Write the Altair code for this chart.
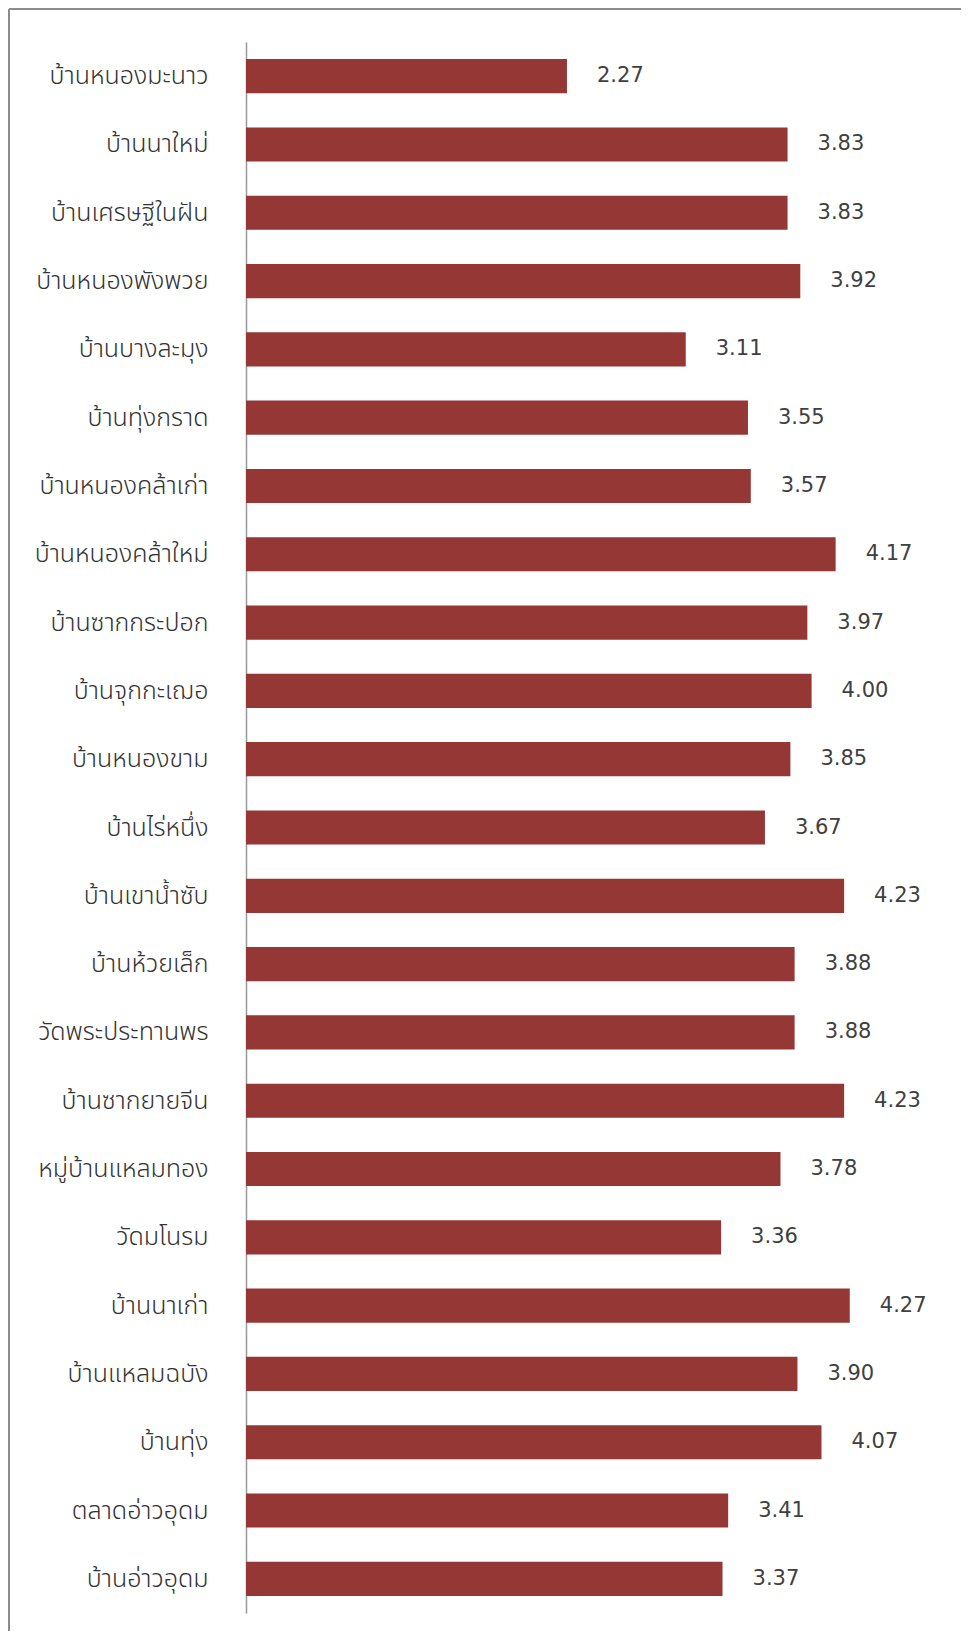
import altair as alt
import pandas as pd

villages = [
    "บ้านหนองมะนาว", "บ้านนาใหม่", "บ้านเศรษฐีในฝัน", "บ้านหนองพังพวย",
    "บ้านบางละมุง", "บ้านทุ่งกราด", "บ้านหนองคล้าเก่า", "บ้านหนองคล้าใหม่",
    "บ้านซากกระปอก", "บ้านจุกกะเฌอ", "บ้านหนองขาม", "บ้านไร่หนึ่ง",
    "บ้านเขาน้ำซับ", "บ้านห้วยเล็ก", "วัดพระประทานพร", "บ้านซากยายจีน",
    "หมู่บ้านแหลมทอง", "วัดมโนรม", "บ้านนาเก่า", "บ้านแหลมฉบัง",
    "บ้านทุ่ง", "ตลาดอ่าวอุดม", "บ้านอ่าวอุดม",
]
scores = [
    2.27, 3.83, 3.83, 3.92,
    3.11, 3.55, 3.57, 4.17,
    3.97, 4.00, 3.85, 3.67,
    4.23, 3.88, 3.88, 4.23,
    3.78, 3.36, 4.27, 3.90,
    4.07, 3.41, 3.37,
]

df = pd.DataFrame({"village": villages, "score": scores})

W = 707
H = 1571
PAD_L, PAD_T, PAD_R, PAD_B = 238, 34, 8, 18

y_enc = alt.Y(
    "village:N",
    sort=None,
    title=None,
    scale=alt.Scale(paddingInner=0.5, paddingOuter=0.25),
    axis=alt.Axis(
        ticks=False,
        domainColor="#999999",
        domainWidth=1.5,
        labelPadding=38,
        labelFontSize=25,
        labelFont="Noto Sans Thai, Tahoma, sans-serif",
        labelFontWeight=300,
        labelColor="#333333",
        labelLimit=300,
    ),
)
x_enc = alt.X(
    "score:Q",
    title=None,
    scale=alt.Scale(domain=[0, 5], nice=False),
    axis=None,
)

base = alt.Chart(df)

bars = base.mark_bar(color="#953735").encode(x=x_enc, y=y_enc)

labels = base.mark_text(
    align="left",
    baseline="middle",
    dx=30,
    fontSize=21,
    font="DejaVu Sans",
    color="#404040",
).encode(x=x_enc, y=alt.Y("village:N", sort=None), text=alt.Text("score:Q", format=".2f"))

frame_top = alt.Chart(pd.DataFrame({"a": [0]})).mark_rule(color="#8c8c8c", strokeWidth=2).encode(
    x=alt.value(-PAD_L + 1), x2=alt.value(W + PAD_R), y=alt.value(-PAD_T + 1)
)
frame_left = alt.Chart(pd.DataFrame({"a": [0]})).mark_rule(color="#8c8c8c", strokeWidth=2).encode(
    x=alt.value(-PAD_L + 1), y=alt.value(-PAD_T + 1), y2=alt.value(H + PAD_B)
)

chart = (
    alt.layer(bars, labels, frame_top, frame_left)
    .properties(
        width=W,
        height=H,
        padding={"left": PAD_L, "top": PAD_T, "right": PAD_R, "bottom": PAD_B},
        autosize=alt.AutoSizeParams(type="none"),
        background="white",
    )
    .configure_view(stroke=None)
)

chart.save("out.html", embed_options={"renderer": "svg", "actions": False})
